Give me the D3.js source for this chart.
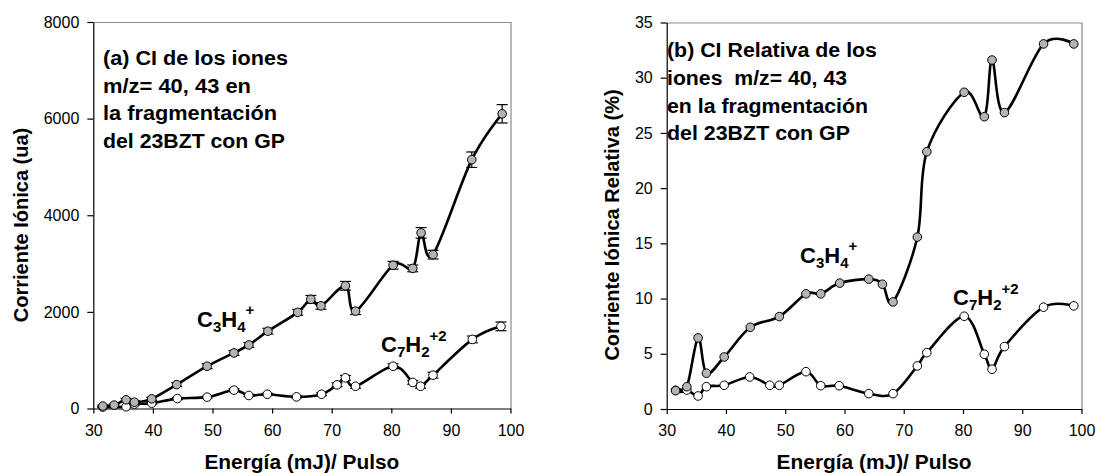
<!DOCTYPE html>
<html>
<head>
<meta charset="utf-8">
<script src="https://cdn.jsdelivr.net/npm/d3@7"></script>
<style>
  html, body { margin: 0; padding: 0; background: #fff; }
  svg { display: block; }
  text { font-family: "Liberation Sans", Arial, Helvetica, sans-serif; fill: #000; }
</style>
</head>
<body>
<svg id="chart" width="1097" height="473"></svg>
<script>
// ---------- DATA ----------
const xTicks = [30, 40, 50, 60, 70, 80, 90, 100];
const yTicksA = [0, 2000, 4000, 6000, 8000];
const yTicksB = [0, 5, 10, 15, 20, 25, 30, 35];

// Panel (a): ion current (ua)
const energyA_C3H4 = [31.6, 33.5, 35.5, 36.9, 39.8, 44.0, 49.1, 53.6, 56.1, 59.3, 64.3, 66.5, 68.2, 72.3, 74.0, 80.3, 83.6, 85.0, 87.0, 93.5, 98.6];
const currentA_C3H4 = [50, 70, 180, 130, 200, 495, 875, 1150, 1315, 1600, 1990, 2260, 2125, 2540, 2015, 2965, 2900, 3635, 3185, 5150, 6100];
const errA_C3H4 = [20, 20, 30, 30, 30, 40, 50, 50, 50, 60, 60, 80, 70, 90, 70, 80, 70, 110, 90, 160, 190];

const energyA_C7H2 = [31.6, 35.5, 36.9, 39.8, 44.1, 49.1, 53.6, 56.1, 59.2, 64.1, 68.3, 70.9, 72.3, 74.0, 80.3, 83.6, 84.9, 87.0, 93.6, 98.4];
const currentA_C7H2 = [30, 35, 90, 110, 205, 235, 380, 270, 295, 240, 295, 490, 635, 460, 875, 540, 460, 690, 1430, 1700];
const errA_C7H2 = [10, 10, 15, 15, 20, 20, 30, 20, 20, 20, 30, 40, 50, 40, 50, 40, 40, 60, 70, 90];

// Panel (b): relative ion current (%)
const energyB_C3H4 = [31.5, 33.4, 35.3, 36.7, 39.7, 44.1, 49.0, 53.5, 56.0, 59.2, 64.1, 66.4, 68.2, 72.3, 73.9, 80.2, 83.6, 84.9, 87.0, 93.6, 98.7];
const relB_C3H4 = [1.66, 2.02, 6.44, 3.24, 4.71, 7.4, 8.37, 10.43, 10.43, 11.4, 11.76, 11.3, 9.7, 15.57, 23.3, 28.68, 26.47, 31.6, 26.84, 33.06, 33.06];
const energyB_C7H2 = [31.5, 33.4, 35.3, 36.7, 39.7, 44.0, 47.4, 49.0, 53.5, 56.0, 59.1, 64.1, 68.2, 72.3, 73.9, 80.2, 83.6, 84.9, 87.0, 93.6, 98.7];
const relB_C7H2 = [1.7, 1.72, 1.18, 2.02, 2.15, 2.9, 2.15, 2.15, 3.38, 2.11, 2.11, 1.39, 1.39, 3.9, 5.1, 8.4, 4.96, 3.6, 5.65, 9.22, 9.34];

const annotA = ["(a) CI de los iones", "m/z= 40, 43 en", "la fragmentación", "del 23BZT con GP"];
const annotB = ["(b) CI Relativa de los", "iones  m/z= 40, 43", "en la fragmentación", "del 23BZT con GP"];
const xTitle = "Energía (mJ)/ Pulso";
const yTitleA = "Corriente Iónica (ua)";
const yTitleB = "Corriente Iónica Relativa (%)";

// ---------- DRAW ----------
const svg = d3.select("#chart");
const GRAY = "#b4b4b4";

function zip(xs, ys, es) { return xs.map((x, i) => ({x, y: ys[i], e: es ? es[i] : null})); }

function panel(cfg) {
  const x = d3.scaleLinear().domain([30, 100]).range([cfg.x0, cfg.x1]);
  const y = d3.scaleLinear().domain(cfg.yDomain).range([cfg.y0, cfg.y1]);
  const g = svg.append("g");

  // plot border (gray top & right)
  g.append("path")
    .attr("d", `M${cfg.x0},${cfg.y1 + 0.5}H${cfg.x1 + 0.5}V${cfg.y0}`)
    .attr("fill", "none").attr("stroke", "#8c8c8c").attr("stroke-width", 1.2);

  // axes
  const xa = g.append("g").attr("transform", `translate(0,${cfg.y0})`)
    .call(d3.axisBottom(x).tickValues(xTicks).tickFormat(d3.format("d"))
      .tickSize(5).tickPadding(11).tickSizeOuter(0));
  const ya = g.append("g").attr("transform", `translate(${cfg.x0},0)`)
    .call(d3.axisLeft(y).tickValues(cfg.yTicks).tickFormat(d3.format("d"))
      .tickSize(6).tickPadding(8).tickSizeOuter(0));
  [xa, ya].forEach(a => {
    a.select(".domain").attr("stroke", "#000").attr("stroke-width", 1.2);
    a.selectAll(".tick line").attr("stroke", "#000").attr("stroke-width", 1.2);
    a.selectAll(".tick text").attr("font-size", 16).attr("fill", "#111")
      .style("font-family", '"Liberation Sans", Arial, sans-serif');
  });

  const line = d3.line().x(d => x(d.x)).y(d => y(d.y)).curve(d3.curveCatmullRom.alpha(0));

  cfg.series.forEach(s => {
    g.append("path").datum(s.data).attr("d", line)
      .attr("fill", "none").attr("stroke", "#000").attr("stroke-width", 2.6)
      .attr("stroke-linejoin", "round");
  });
  cfg.series.forEach(s => {
    if (!s.err) return;
    const eb = g.append("g").attr("stroke", "#000").attr("stroke-width", 1.2);
    s.data.forEach(d => {
      const xp = x(d.x), ylo = y(d.y - d.e), yhi = y(d.y + d.e);
      eb.append("line").attr("x1", xp).attr("x2", xp).attr("y1", ylo).attr("y2", yhi);
      eb.append("line").attr("x1", xp - 5.5).attr("x2", xp + 5.5).attr("y1", ylo).attr("y2", ylo);
      eb.append("line").attr("x1", xp - 5.5).attr("x2", xp + 5.5).attr("y1", yhi).attr("y2", yhi);
    });
  });
  cfg.series.forEach(s => {
    g.append("g").selectAll("circle").data(s.data).join("circle")
      .attr("cx", d => x(d.x)).attr("cy", d => y(d.y)).attr("r", 4.3)
      .attr("fill", s.fill).attr("stroke", "#000").attr("stroke-width", 1);
  });

  // annotation
  cfg.annot.forEach((t, i) => {
    g.append("text").attr("x", cfg.annX).attr("y", cfg.annY[i])
      .attr("font-size", 20).attr("font-weight", "bold")
      .style("white-space", "pre")
      .attr("textLength", cfg.annW[i]).attr("lengthAdjust", "spacingAndGlyphs")
      .text(t);
  });

  // axis titles
  g.append("text").attr("x", (cfg.x0 + cfg.x1) / 2).attr("y", 469)
    .attr("text-anchor", "middle").attr("font-size", 20).attr("font-weight", "bold")
    .attr("textLength", 195).attr("lengthAdjust", "spacingAndGlyphs")
    .text(xTitle);
  g.append("text")
    .attr("transform", `translate(${cfg.ytX},${cfg.ytY}) rotate(-90)`)
    .attr("text-anchor", "middle").attr("font-size", 20).attr("font-weight", "bold")
    .attr("dy", "0.35em")
    .text(cfg.yTitle);

  // species labels
  cfg.labels.forEach(L => {
    const t = g.append("text").attr("x", L.x).attr("y", L.y)
      .attr("font-size", 22).attr("font-weight", "bold");
    L.parts.forEach(p => {
      t.append("tspan").attr("dy", p.dy).attr("font-size", p.fs).text(p.t);
    });
  });
}

function c3h4() {
  return [{t: "C", dy: 0, fs: 22}, {t: "3", dy: 5, fs: 15}, {t: "H", dy: -5, fs: 22},
          {t: "4", dy: 5, fs: 15}, {t: "+", dy: -17, fs: 15}];
}
function c7h2() {
  return [{t: "C", dy: 0, fs: 22}, {t: "7", dy: 5, fs: 15}, {t: "H", dy: -5, fs: 22},
          {t: "2", dy: 5, fs: 15}, {t: "+2", dy: -16, fs: 15}];
}

panel({
  x0: 93.3, x1: 510.5, y0: 408.5, y1: 22,
  yDomain: [0, 8000], yTicks: yTicksA,
  series: [
    {data: zip(energyA_C7H2, currentA_C7H2, errA_C7H2), fill: "#fff", err: true},
    {data: zip(energyA_C3H4, currentA_C3H4, errA_C3H4), fill: GRAY, err: true}
  ],
  annot: annotA, annX: 103, annY: [65, 93, 120, 148], annW: [185, 148, 174, 182],
  yTitle: yTitleA, ytX: 21, ytY: 225,
  labels: [{x: 197, y: 327, parts: c3h4()}, {x: 381, y: 352, parts: c7h2()}]
});

panel({
  x0: 666.7, x1: 1081.5, y0: 409, y1: 22.5,
  yDomain: [0, 35], yTicks: yTicksB,
  series: [
    {data: zip(energyB_C7H2, relB_C7H2), fill: "#fff", err: false},
    {data: zip(energyB_C3H4, relB_C3H4), fill: GRAY, err: false}
  ],
  annot: annotB, annX: 667, annY: [57, 85, 113, 140], annW: [210, 180, 201, 183],
  yTitle: yTitleB, ytX: 612, ytY: 225,
  labels: [{x: 800, y: 263, parts: c3h4()}, {x: 953, y: 305, parts: c7h2()}]
});
</script>
</body>
</html>
